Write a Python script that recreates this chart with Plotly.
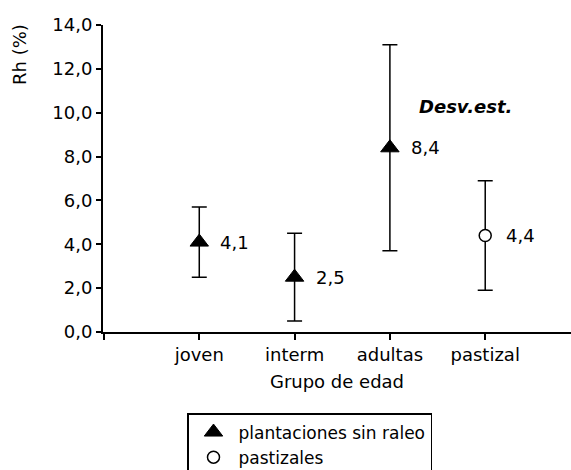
import plotly.graph_objects as go

# Age groups and mean Rh (%) with standard deviation
categories = ["joven", "interm", "adultas", "pastizal"]
plantaciones_groups = ["joven", "interm", "adultas"]
plantaciones_mean = [4.1, 2.5, 8.4]
plantaciones_sd = [1.6, 2.0, 4.7]
pastizales_groups = ["pastizal"]
pastizales_mean = [4.4]
pastizales_sd = [2.5]

y_ticks = [0, 2, 4, 6, 8, 10, 12, 14]

FONT = "DejaVu Sans, Arial, sans-serif"
FS = 18
pos = {c: i for i, c in enumerate(categories)}


def fmt(v):
    return f"{v:.1f}".replace(".", ",")


fig = go.Figure()

fig.add_trace(go.Scatter(
    x=[pos[c] for c in plantaciones_groups],
    y=plantaciones_mean,
    mode="markers",
    name="plantaciones sin raleo",
    marker=dict(symbol="triangle-up", size=16, color="black",
                line=dict(color="black", width=1)),
    error_y=dict(type="data", array=plantaciones_sd, visible=True,
                 color="black", thickness=1.5, width=7.5),
))

fig.add_trace(go.Scatter(
    x=[pos[c] for c in pastizales_groups],
    y=pastizales_mean,
    mode="markers",
    name="pastizales",
    marker=dict(symbol="circle", size=12, color="white",
                line=dict(color="black", width=1.5)),
    error_y=dict(type="data", array=pastizales_sd, visible=True,
                 color="black", thickness=1.5, width=7.5),
))

annotations = []
for groups, means in ((plantaciones_groups, plantaciones_mean),
                      (pastizales_groups, pastizales_mean)):
    for g, m in zip(groups, means):
        annotations.append(dict(
            x=pos[g], y=m, xref="x", yref="y", text=fmt(m),
            showarrow=False, xanchor="left", yanchor="middle", xshift=19,
            font=dict(family=FONT, size=FS, color="black"),
        ))

annotations.append(dict(
    x=2.79, y=10.3, xref="x", yref="y", text="<b><i>Desv.est.</i></b>",
    showarrow=False, xanchor="center", yanchor="middle",
    font=dict(family=FONT, size=FS, color="black"),
))

annotations.append(dict(
    x=-0.177, y=0.903, xref="paper", yref="paper", text="Rh (%)",
    showarrow=False, textangle=-90, xanchor="center", yanchor="middle",
    font=dict(family=FONT, size=FS, color="black"),
))

fig.update_layout(
    width=571, height=470,
    margin=dict(l=103, r=0, t=25, b=138, autoexpand=False),
    paper_bgcolor="white", plot_bgcolor="white",
    font=dict(family=FONT, size=FS, color="black"),
    separators=",.",
    showlegend=True,
    legend=dict(
        xref="container", yref="container",
        x=187 / 571, y=1 - 413 / 470, xanchor="left", yanchor="top",
        bordercolor="black", borderwidth=1.5, bgcolor="white",
        font=dict(family=FONT, size=17, color="black"),
        itemwidth=40, tracegroupgap=0, entrywidth=235,
    ),
    annotations=annotations,
)

fig.update_xaxes(
    range=[-1.01, 3.9],
    tickvals=[-1] + list(range(len(categories))),
    ticktext=[""] + categories,
    ticks="outside", ticklen=6, tickwidth=1.5, tickcolor="black",
    showline=True, linecolor="black", linewidth=1.5,
    showgrid=False, zeroline=False,
    title=dict(text="Grupo de edad", standoff=11,
               font=dict(family=FONT, size=FS, color="black")),
    tickfont=dict(family=FONT, size=FS, color="black"),
)

fig.update_yaxes(
    range=[0, 14],
    tickvals=y_ticks, tickformat=".1f",
    ticks="outside", ticklen=5, tickwidth=1.5, tickcolor="black",
    showline=True, linecolor="black", linewidth=2,
    showgrid=False, zeroline=False,
    tickfont=dict(family=FONT, size=FS, color="black"),
)

fig.write_html("out.html")
